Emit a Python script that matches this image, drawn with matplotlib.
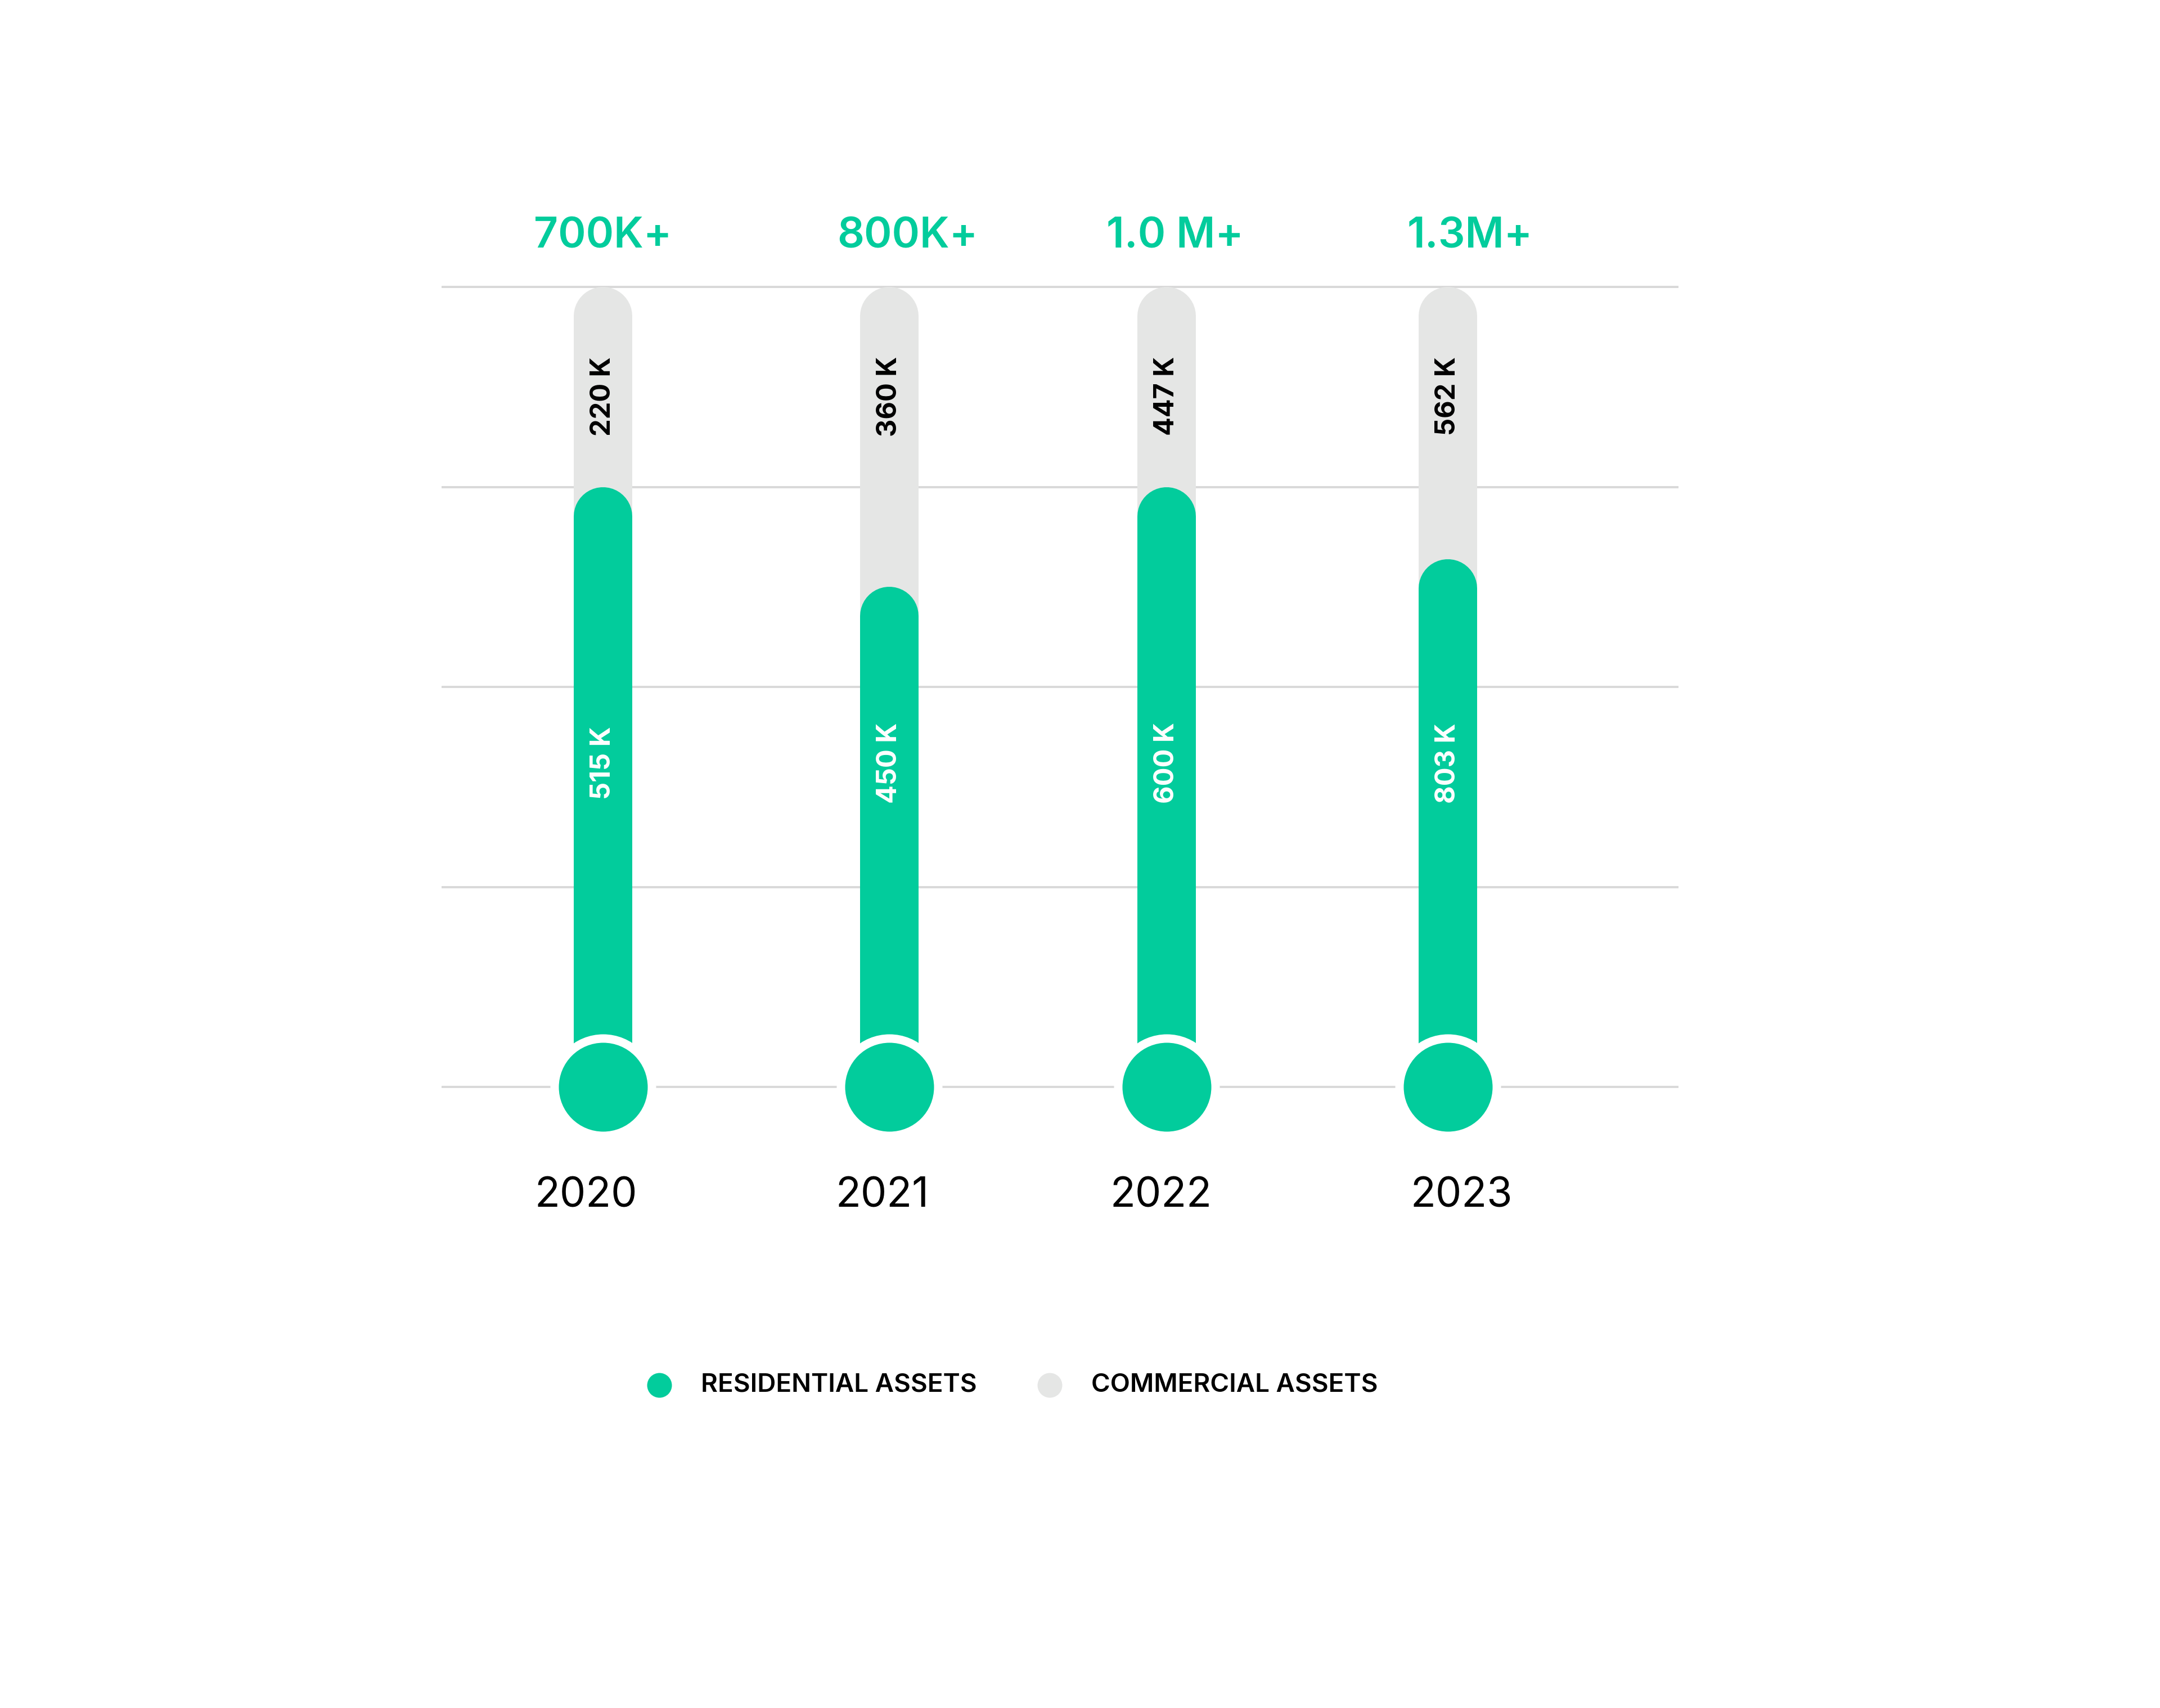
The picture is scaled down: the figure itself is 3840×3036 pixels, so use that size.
import numpy as np
import matplotlib.pyplot as plt

# data
years = ['2020', '2021', '2022', '2023']
totals = ['700K+', '800K+', '1.0 M+', '1.3M+']
residential = ['515 K', '450 K', '600 K', '803 K']
commercial = ['220 K', '360 K', '447 K', '562 K']
# bar levels as drawn (in gridline steps, the design is not to scale)
res_level = [3.0, 2.5, 3.0, 2.64]
com_level = [4.0, 4.0, 4.0, 4.0]

GREEN = '#02CC9C'
GREY = '#E5E6E5'
GRID = '#D9D9D9'
FONT = ['Inter', 'DejaVu Sans']

W, H, DPI = 3840, 3036, 200
fig = plt.figure(figsize=(W / DPI, H / DPI), dpi=DPI)
ax = fig.add_axes([0, 0, 1, 1])
ax.set_xlim(-2.140, 5.525)
ax.set_ylim(-3.105, 5.435)
ax.axis('off')

# px -> pt helper for line widths and marker sizes
def pt(px):
    return px * 72 / DPI

y_per_px = 1 / 355.5
bar_w = 104
cap = bar_w / 2 * y_per_px

for g in range(5):
    ax.plot([-0.573, 3.816], [g, g], color=GRID, lw=pt(4), zorder=1,
            solid_capstyle='butt')

# slight irregular spacing of the columns in the design
x = np.arange(len(years)) + np.array([0.0, 0.015, 0.0, -0.003])
for i, xi in enumerate(x):
    ax.plot([xi, xi], [0, com_level[i] - cap], color=GREY, lw=pt(bar_w),
            solid_capstyle='round', zorder=2)
    ax.plot([xi, xi], [0, res_level[i] - cap], color=GREEN, lw=pt(bar_w),
            solid_capstyle='round', zorder=3)

# bulbs with a white ring
ax.scatter(x, np.zeros(len(x)), s=pt(188) ** 2, color='white', zorder=4,
           linewidths=0)
ax.scatter(x, np.zeros(len(x)), s=pt(158) ** 2, color=GREEN, zorder=5,
           linewidths=0)

top_dx = [0.0, 0.065, 0.03, 0.08]
year_dx = [-0.06, -0.025, -0.02, 0.05]
for i, xi in enumerate(x):
    ax.text(xi + top_dx[i], 4.25, totals[i], color=GREEN, fontsize=27,
            fontweight='semibold', family=FONT, ha='center', va='center',
            zorder=6)
    ax.text(xi + year_dx[i], -0.545, years[i], color='black', fontsize=26.5,
            family=FONT, ha='center', va='center', zorder=6)
    ax.text(xi, 3.454, commercial[i], color='black', fontsize=17.5,
            fontweight='bold', family=FONT, rotation=90, ha='center',
            va='center', zorder=6)
    ax.text(xi, 1.62, residential[i], color='white', fontsize=17.5,
            fontweight='bold', family=FONT, rotation=90, ha='center',
            va='center', zorder=6)

# legend
leg_y = -1.49
for dot_x, txt_x, col, lab in [(0.2, 0.347, GREEN, 'RESIDENTIAL ASSETS'),
                               (1.585, 1.733, GREY, 'COMMERCIAL ASSETS')]:
    ax.scatter([dot_x], [leg_y], s=pt(44) ** 2, color=col, linewidths=0)
    ax.text(txt_x, leg_y, lab, color='black', fontsize=16.5,
            fontweight='semibold', family=FONT, ha='left', va='center')

fig.savefig('out.png', dpi=DPI, facecolor='white')
